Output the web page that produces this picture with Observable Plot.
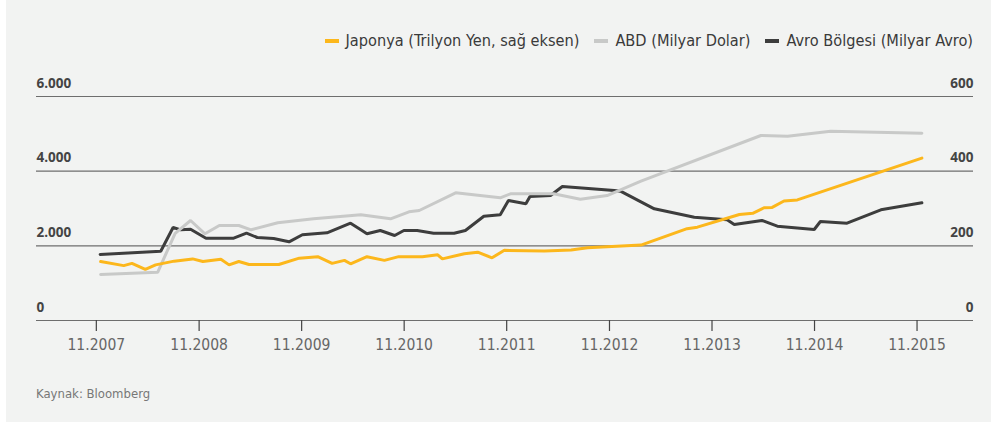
<!DOCTYPE html>
<html>
<head>
<meta charset="utf-8">
<script src="https://cdn.jsdelivr.net/npm/d3@7"></script>
<script src="https://cdn.jsdelivr.net/npm/@observablehq/plot@0.6"></script>
<style>
  html, body { margin: 0; padding: 0; }
  body { width: 991px; height: 422px; background: linear-gradient(to right, #ffffff 6px, #f2f3f2 6px); position: relative; overflow: hidden;
         font-family: "Liberation Sans Narrow", "DejaVu Sans Condensed", "Roboto", sans-serif; }
  #chart { position: absolute; left: 0; top: 0; }
  #legend { position: absolute; top: 31px; right: 18px; display: flex; gap: 15px; font-size: 16.2px; color: #3a3a3a; white-space: nowrap; }
  #legend .item { display: flex; align-items: center; }
  #legend .sw { width: 14px; height: 4px; margin-right: 7px; }
  #caption { position: absolute; left: 36px; top: 386px; font-size: 13px; color: #777; }
</style>
</head>
<body>
<div id="legend"></div>
<div id="chart"></div>
<div id="caption">Kaynak: Bloomberg</div>
<script>
// ---- data (decimal year, value) ----
// Avro Bölgesi (Milyar Avro), left axis
const euroT = [2007.87,2008.46,2008.58,2008.655,2008.75,2008.90,2009.17,2009.295,2009.40,2009.56,2009.71,2009.84,2010.08,2010.31,2010.41,2010.47,2010.60,2010.74,2010.83,2010.96,2011.12,2011.32,2011.43,2011.61,2011.77,2011.85,2012.02,2012.06,2012.26,2012.375,2012.88,2012.94,2013.27,2013.66,2013.98,2014.05,2014.32,2014.47,2014.83,2014.89,2015.15,2015.48,2015.88];
const euroV = [1768,1856,2491,2429,2446,2205,2205,2338,2223,2196,2108,2296,2349,2606,2429,2322,2411,2277,2411,2411,2338,2338,2411,2794,2831,3214,3126,3321,3348,3589,3482,3464,2992,2767,2697,2571,2679,2526,2438,2652,2606,2965,3153];
// ABD (Milyar Dolar), left axis
const usT = [2007.875,2008.43,2008.60,2008.75,2008.89,2009.03,2009.22,2009.34,2009.60,2009.95,2010.41,2010.70,2010.88,2010.98,2011.335,2011.77,2011.87,2012.29,2012.55,2012.81,2013.14,2014.31,2014.57,2014.99,2015.88];
const usV = [1232,1291,2336,2679,2322,2545,2545,2429,2617,2724,2831,2724,2912,2946,3421,3287,3394,3394,3249,3348,3731,4955,4937,5071,5017];
// Japonya (Trilyon Yen), right axis
const jpT = [2007.875,2008.10,2008.18,2008.31,2008.41,2008.59,2008.77,2008.87,2009.045,2009.125,2009.22,2009.32,2009.61,2009.81,2009.99,2010.13,2010.25,2010.31,2010.47,2010.64,2010.78,2011.01,2011.16,2011.205,2011.42,2011.55,2011.69,2011.81,2012.20,2012.46,2012.62,2013.14,2013.59,2013.69,2014.10,2014.23,2014.34,2014.42,2014.535,2014.665,2015.88];
const jpV = [158,147,153,137,149,159,165,158,164,149,158,150,150,167,171,153,161,152,171,161,171,171,176,165,179,183,168,188,186,189,195,202,246,250,284,287,302,303,320,323,435];

const leftTicks = [0, 2000, 4000, 6000];
const rightTicks = [0, 200, 400, 600];
const xTickYears = [2007, 2008, 2009, 2010, 2011, 2012, 2013, 2014, 2015];
const xTickMonth = 11;

const series = [
  {name: "Japonya (Trilyon Yen, sağ eksen)", color: "#fcb71c"},
  {name: "ABD (Milyar Dolar)", color: "#c8c9c8"},
  {name: "Avro Bölgesi (Milyar Avro)", color: "#3d3d3d"}
];

// ---- helpers ----
function dec(t) {
  const y = Math.floor(t);
  const s = Date.UTC(y, 0, 1), e = Date.UTC(y + 1, 0, 1);
  return new Date(s + (t - y) * (e - s));
}
const euro = euroT.map((t, i) => ({date: dec(t), v: euroV[i]}));
const us = usT.map((t, i) => ({date: dec(t), v: usV[i]}));
const jp = jpT.map((t, i) => ({date: dec(t), v: jpV[i]}));
const xTicks = xTickYears.map(y => new Date(Date.UTC(y, xTickMonth - 1, 1)));
const fmtDot = d3.format(",");
const leftFmt = d => fmtDot(d).replace(/,/g, ".");

const chart = Plot.plot({
  width: 991,
  height: 360,
  marginLeft: 36,
  marginRight: 18,
  marginTop: 96,
  marginBottom: 40,
  style: {background: "transparent", overflow: "visible"},
  x: {type: "utc", domain: [new Date(Date.UTC(2007, 3, 2)), new Date(Date.UTC(2016, 4, 20))]},
  y: {domain: [0, 6000]},
  marks: [
    Plot.ruleY(leftTicks, {stroke: "#6e6e6e", strokeWidth: 1.2}),
    Plot.axisX(xTicks, {tickSize: 11, tickPadding: 7, stroke: "#444", strokeWidth: 1.2, fill: "#666",
      fontSize: 15.5, fontFamily: "Liberation Sans Narrow, DejaVu Sans Condensed, sans-serif",
      tickFormat: d => `${d.getUTCMonth() + 1}.${d.getUTCFullYear()}`, label: null}),
    Plot.axisY({ticks: [], label: null}),
    Plot.text(leftTicks, {y: d => d, frameAnchor: "left", textAnchor: "start", dy: -13,
      text: leftFmt, fill: "#444", fontWeight: "bold", fontSize: 13.5, fontFamily: "Open Sans, sans-serif"}),
    Plot.text(rightTicks, {y: d => d * 10, frameAnchor: "right", textAnchor: "end", dy: -13,
      text: d => String(d), fill: "#444", fontWeight: "bold", fontSize: 13.5, fontFamily: "Open Sans, sans-serif"}),
    Plot.line(euro, {x: "date", y: "v", stroke: series[2].color, strokeWidth: 3, strokeLinejoin: "miter"}),
    Plot.line(us, {x: "date", y: "v", stroke: series[1].color, strokeWidth: 3, strokeLinejoin: "miter"}),
    Plot.line(jp, {x: "date", y: d => d.v * 10, stroke: series[0].color, strokeWidth: 3, strokeLinejoin: "miter"})
  ]
});
document.getElementById("chart").appendChild(chart);

const legend = document.getElementById("legend");
for (const s of series) {
  const item = document.createElement("div");
  item.className = "item";
  const sw = document.createElement("span");
  sw.className = "sw";
  sw.style.background = s.color;
  const lab = document.createElement("span");
  lab.textContent = s.name;
  item.appendChild(sw);
  item.appendChild(lab);
  legend.appendChild(item);
}
</script>
</body>
</html>
